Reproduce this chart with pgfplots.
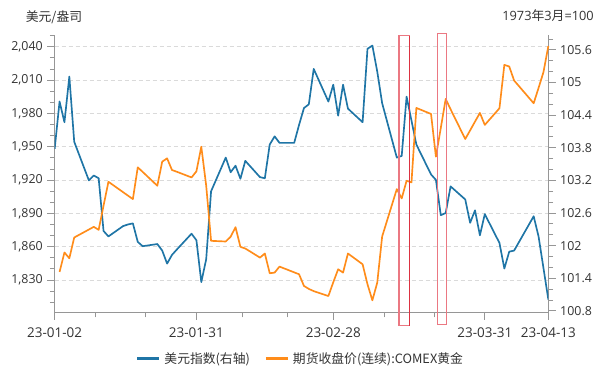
\documentclass[border=0pt]{standalone}
\usepackage{fontspec}
\setmainfont{Noto Sans CJK SC}
\newfontfamily\latinf{Open Sans}
\usepackage{pgfplots}
\pgfplotsset{compat=1.18}
\definecolor{dxyblue}{RGB}{31,117,166}
\definecolor{goldorange}{RGB}{255,140,26}
\definecolor{axgray}{RGB}{150,150,150}
\definecolor{gridgray}{RGB}{218,218,218}
\definecolor{txt}{RGB}{51,51,51}
\definecolor{boxred}{RGB}{220,50,65}
\definecolor{boxpink}{RGB}{235,120,130}
\pgfplotsset{
  common/.style={
    set layers,
    scale only axis,
    width=370.2pt, height=208.4pt,
    at={(0pt,0pt)}, anchor=south west,
    xmin=0, xmax=101,
    axis line style={axgray, line width=0.75pt},
    tick style={axgray, line width=0.75pt},
    tick align=outside,
    major tick length=5.4pt, minor tick length=3.6pt,
    yticklabel style={font=\latinf\fontsize{9.3}{11}\selectfont, text=txt},
    xticklabel style={font=\latinf\fontsize{10.1}{12}\selectfont, text=txt},
    /pgf/number format/assume math mode=true,
  }
}
\begin{document}
\begin{tikzpicture}[font=\fontsize{9.6}{11.5}\selectfont, text=txt]
% right axis: US dollar index
\begin{axis}[common,
  axis x line=none,
  axis y line*=right,
  ymin=100.77, ymax=105.88,
  ytick={100.8,101.4,102,102.6,103.2,103.8,104.4,105,105.6},
  minor ytick={100.8,101,101.2,101.4,101.6,101.8,102,102.2,102.4,102.6,102.8,103,103.2,103.4,103.6,103.8,104,104.2,104.4,104.6,104.8,105,105.2,105.4,105.6,105.8},
  yticklabel style={/pgf/number format/.cd,fixed,precision=1},
]
\addplot[dxyblue, line width=1.25pt, line join=round] coordinates {
(0,103.78) (1,104.65) (2,104.27) (3,105.11) (4,103.91) (7,103.20) (8,103.29) (9,103.24)
(10,102.27) (11,102.17) (14,102.36) (15,102.39) (16,102.41) (17,102.07) (18,101.99)
(21,102.03) (22,101.91) (23,101.67) (24,101.83) (25,101.93) (28,102.22) (29,102.10)
(30,101.33) (31,101.75) (32,103.00) (35,103.62) (36,103.35) (37,103.47) (38,103.23) (39,103.56)
(42,103.26) (43,103.24) (44,103.86) (45,104.01) (46,103.89) (49,103.89) (50,104.22) (51,104.53)
(52,104.60) (53,105.25) (56,104.65) (57,104.96) (58,104.39) (59,104.96) (60,104.52)
(63,104.27) (64,105.62) (65,105.68) (66,105.20) (67,104.62) (70,103.62) (71,103.65) (72,104.74)
(73,104.30) (74,103.86) (77,103.31) (78,103.21) (79,102.56) (80,102.60) (81,103.09)
(84,102.85) (85,102.42) (86,102.65) (87,102.19) (88,102.58) (91,102.05) (92,101.58) (93,101.89)
(94,101.91) (98,102.54) (99,102.17) (100,101.59) (101,101.01)
};
\end{axis}
% left axis: COMEX gold
\begin{axis}[common,
  axis x line*=bottom,
  axis y line*=left,
  ymin=1800.7, ymax=2051,
  ytick={1830,1860,...,2040},
  minor ytick={1810,1820,...,2050},
  ymajorgrids,
  grid style={gridgray, dash pattern=on 3pt off 2.25pt, line width=0.75pt},
  yticklabel style={/pgf/number format/.cd, fixed, precision=0, 1000 sep={,}},
  xtick={0,29,57,88,101},
  xticklabels={23-01-02,23-01-31,23-02-28,23-03-31,23-04-13},
  xticklabel style={yshift=-2.5pt},
  minor xtick={8.39,18.54,38.39,47.6,67.4,77.76},
  clip=false,
  legend style={at={(0.5,-0.166)}, anchor=center, draw=none, fill=none,
    legend columns=2, font=\fontsize{9.6}{11.5}\selectfont, text=txt,
    nodes={inner xsep=3pt},
    /tikz/every even column/.append style={column sep=8pt}},
  legend image code/.code={\draw[#1, line width=2pt] (0pt,0pt) -- (16.3pt,0pt);},
]
\addlegendimage{dxyblue, line width=1.25pt}
\addlegendentry{美元指数(右轴)}
\addplot[goldorange, line width=1.25pt, line join=round] coordinates {
(1,1837.3) (2,1854.8) (3,1849.6) (4,1868.3) (7,1875.5) (8,1877.9) (9,1875.2) (10,1897)
(11,1918.5) (15,1906) (16,1902.9) (17,1931.5) (18,1927.4) (21,1914.9) (22,1936.6) (23,1939.6)
(24,1929.1) (25,1927.5) (28,1922.4) (29,1927.9) (30,1950.1) (31,1915) (32,1865.3)
(35,1864.7) (36,1869) (37,1877.6) (38,1859.9) (39,1858.4) (42,1850.2) (43,1853.9) (44,1836.1)
(45,1836.7) (46,1842.1) (50,1835.2) (51,1824.7) (52,1822) (53,1820) (56,1815.6) (57,1828)
(58,1839.7) (59,1836.7) (60,1853.9) (63,1844.2) (64,1826.2) (65,1811.7) (66,1827.7) (67,1869.2)
(70,1911.9) (71,1903.5) (72,1919.4) (73,1917.9) (74,1985.0) (77,1979.6) (78,1941.1) (79,1967)
(80,1993.1) (81,1983.8) (84,1957.0) (85,1964.8) (86,1972.7) (87,1980.5) (88,1969.7)
(91,1984.7) (92,2023.8) (93,2022.3) (94,2009.7) (98,1989.2) (99,2003) (100,2017.2) (101,2040.7)
};
\addlegendentry{期货收盘价(连续):COMEX黄金}
\draw[boxpink, line width=0.9pt] (axis cs:70.45,2049.9) rectangle (axis cs:72.56,1788.8);
\draw[boxred, line width=0.9pt] (axis cs:72.56,2049.9) -- (axis cs:72.56,1788.8);
\draw[boxpink, line width=0.9pt] (axis cs:78.37,2051.7) rectangle (axis cs:80.2,1789.7);
\end{axis}
\node at (-0.5pt,221.3pt) {美元/盎司};
\node at (370pt,222.4pt) {{\latinf 1973}年{\latinf 3}月{\latinf =100}};
\pgfresetboundingbox
\useasboundingbox (-41.0pt,-45.4pt) rectangle (418.7pt,234.4pt);
\end{tikzpicture}
\end{document}
